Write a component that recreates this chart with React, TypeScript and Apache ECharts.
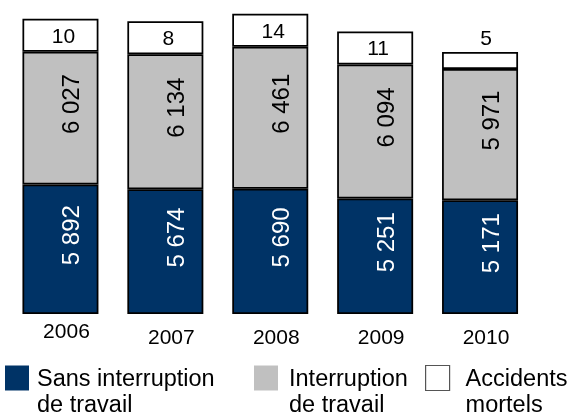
import React, { useEffect, useRef } from 'react';
import * as echarts from 'echarts';

const years = ['2006', '2007', '2008', '2009', '2010'];
const sansInterruption = [5892, 5674, 5690, 5251, 5171];
const interruption = [6027, 6134, 6461, 6094, 5971];
const mortels = [10, 8, 14, 11, 5];
// drawn height (axis units) of the white "Accidents mortels" boxes, which are not to scale in the original
const mortelsBox = [1500, 1500, 1500, 1500, 770];

const seriesNames = ['Sans interruption\nde travail', 'Interruption\nde travail', 'Accidents\nmortels'];

const FONT = '"Liberation Sans", Arial, Helvetica, sans-serif';
const NAVY = '#003366';
const GREY = '#c0c0c0';
const BORDER = 1.75;

const fmt = (v: number) => String(v).replace(/\B(?=(\d{3})+(?!\d))/g, ' ');

export default function App() {
  const ref = useRef<HTMLDivElement>(null);
  useEffect(() => {
    if (!ref.current) return;
    const chart = echarts.init(ref.current, undefined, { renderer: 'svg' });
    const legendText = (padLeft: number) => ({
      color: '#000',
      fontFamily: FONT,
      fontSize: 23.5,
      lineHeight: 26,
      padding: [0, 0, 0, padLeft],
    });
    const legendFmt = (name: string) => '\n' + name;
    chart.setOption({
      animation: false,
      grid: { left: 8, right: 38.5, top: 6, bottom: 103, containLabel: false },
      xAxis: {
        type: 'category',
        data: years.map((y, i) => ({
          value: y,
          textStyle: { padding: i === 0 ? [0, 0, 0, 12] : [6, 0, 0, 12] },
        })),
        axisLine: { show: false },
        axisTick: { show: false },
        axisLabel: { color: '#000', fontFamily: FONT, fontSize: 21, margin: 6, interval: 0 },
      },
      yAxis: { type: 'value', min: 0, max: 14000, show: false, splitLine: { show: false } },
      legend: [
        {
          data: [seriesNames[0]], left: 5, top: 339, padding: 0, icon: 'rect',
          itemWidth: 24, itemHeight: 25, itemStyle: { borderWidth: 0 },
          textStyle: legendText(3), selectedMode: false, formatter: legendFmt,
        },
        {
          data: [seriesNames[1]], left: 254, top: 339, padding: 0, icon: 'rect',
          itemWidth: 24, itemHeight: 25, itemStyle: { borderWidth: 0 },
          textStyle: legendText(6), selectedMode: false, formatter: legendFmt,
        },
        {
          data: [seriesNames[2]], left: 425, top: 339, padding: 0, icon: 'rect',
          itemWidth: 24, itemHeight: 25, itemStyle: { color: '#fff', borderColor: '#555', borderWidth: 1.2 },
          textStyle: legendText(11), selectedMode: false, formatter: legendFmt,
        },
      ],
      series: [
        {
          name: seriesNames[0], type: 'bar', stack: 'total', barWidth: 76,
          data: sansInterruption,
          itemStyle: { color: NAVY, borderColor: '#000', borderWidth: BORDER },
          label: {
            show: true, position: 'inside', rotate: 90, color: '#fff', fontSize: 24, fontFamily: FONT,
            offset: [14, 10], formatter: (p: any) => fmt(p.value),
          },
        },
        {
          name: seriesNames[1], type: 'bar', stack: 'total', barWidth: 76,
          data: interruption,
          itemStyle: { color: GREY, borderColor: '#000', borderWidth: BORDER },
          label: {
            show: true, position: 'inside', rotate: 90, color: '#000', fontSize: 24, fontFamily: FONT,
            offset: [14, 10], formatter: (p: any) => fmt(p.value),
          },
        },
        {
          name: seriesNames[2], type: 'bar', stack: 'total', barWidth: 76,
          data: mortelsBox.map((v, i) => ({
            value: v,
            label: i === mortelsBox.length - 1 ? { position: 'top', distance: 4, offset: [6, 0] } : undefined,
          })),
          itemStyle: { color: '#fff', borderColor: '#000', borderWidth: BORDER },
          label: {
            show: true, position: 'inside', color: '#000', fontSize: 21, fontFamily: FONT,
            offset: [3, 0], formatter: (p: any) => String(mortels[p.dataIndex]),
          },
        },
      ],
    });
    return () => chart.dispose();
  }, []);
  return <div ref={ref} style={{ position: 'fixed', left: 0, top: 0, width: 571, height: 417 }} />;
}
